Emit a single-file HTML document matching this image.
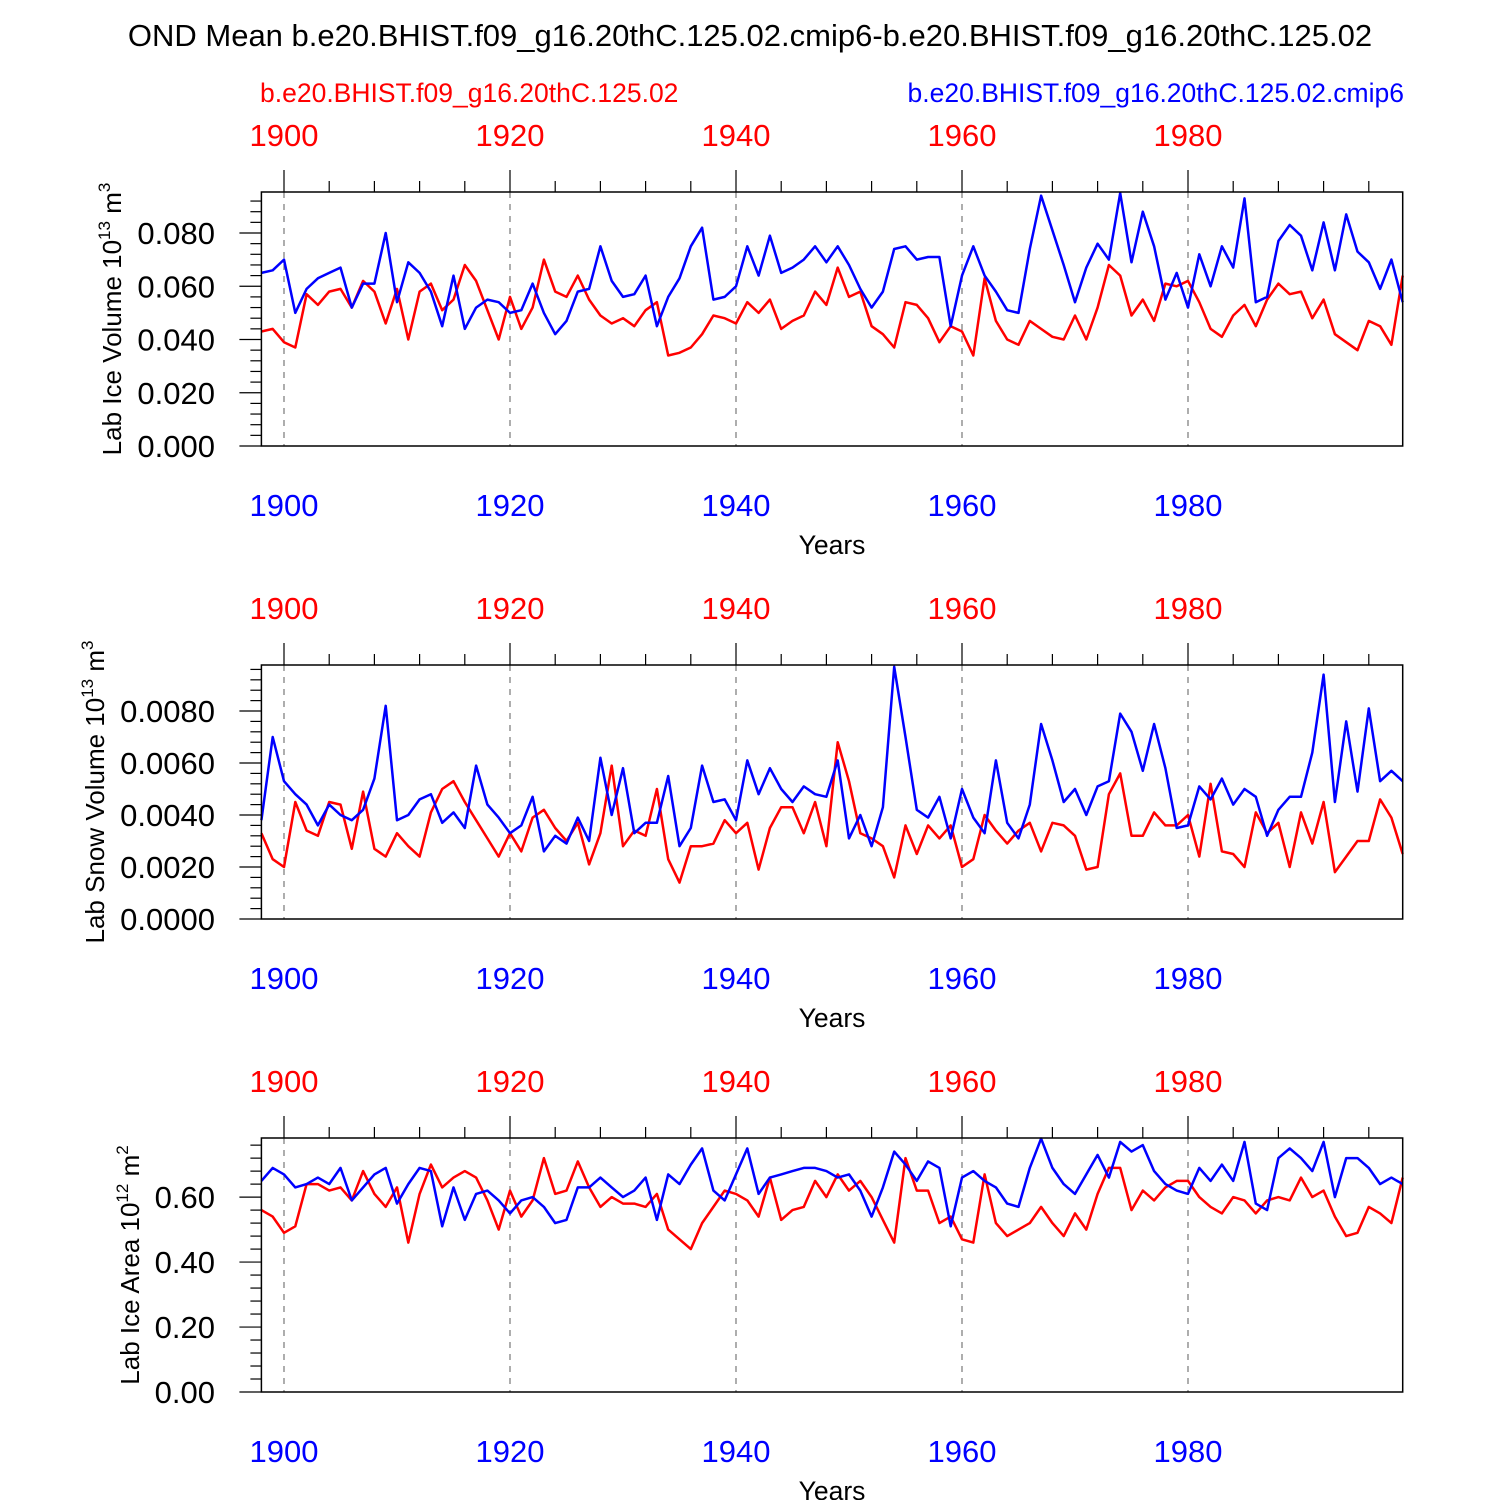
<!DOCTYPE html>
<html><head><meta charset="utf-8"><style>
html,body{margin:0;padding:0;background:#fff;}
svg{display:block;font-family:"Liberation Sans",sans-serif;}
</style></head><body>
<svg id="chart" width="1500" height="1500" viewBox="0 0 1500 1500">
<text x="750" y="46" text-anchor="middle" font-size="31">OND Mean b.e20.BHIST.f09_g16.20thC.125.02.cmip6-b.e20.BHIST.f09_g16.20thC.125.02</text>
<text x="260" y="102" font-size="26.5" fill="#ff0000">b.e20.BHIST.f09_g16.20thC.125.02</text>
<text x="1404" y="102" font-size="26.5" fill="#0000ff" text-anchor="end">b.e20.BHIST.f09_g16.20thC.125.02.cmip6</text>
</svg>
<script>
const years = [];
for (let y = 1898; y <= 1999; y++) years.push(y);
const xTicks = [1900, 1920, 1940, 1960, 1980];

const iceVolBlue = [0.065,0.066,0.070,0.050,0.059,0.063,0.065,0.067,0.052,0.061,0.061,0.080,0.054,0.069,0.065,0.058,0.045,0.064,0.044,0.052,0.055,0.054,0.050,0.051,0.061,0.050,0.042,0.047,0.058,0.059,0.075,0.062,0.056,0.057,0.064,0.045,0.056,0.063,0.075,0.082,0.055,0.056,0.060,0.075,0.064,0.079,0.065,0.067,0.070,0.075,0.069,0.075,0.068,0.059,0.052,0.058,0.074,0.075,0.070,0.071,0.071,0.045,0.064,0.075,0.064,0.058,0.051,0.050,0.074,0.094,0.081,0.068,0.054,0.067,0.076,0.070,0.095,0.069,0.088,0.075,0.055,0.065,0.052,0.072,0.060,0.075,0.067,0.093,0.054,0.056,0.077,0.083,0.079,0.066,0.084,0.066,0.087,0.073,0.069,0.059,0.070,0.054];
const iceVolRed = [0.043,0.044,0.039,0.037,0.057,0.053,0.058,0.059,0.052,0.062,0.058,0.046,0.059,0.040,0.058,0.061,0.051,0.055,0.068,0.062,0.051,0.040,0.056,0.044,0.052,0.070,0.058,0.056,0.064,0.055,0.049,0.046,0.048,0.045,0.051,0.054,0.034,0.035,0.037,0.042,0.049,0.048,0.046,0.054,0.050,0.055,0.044,0.047,0.049,0.058,0.053,0.067,0.056,0.058,0.045,0.042,0.037,0.054,0.053,0.048,0.039,0.045,0.043,0.034,0.063,0.047,0.040,0.038,0.047,0.044,0.041,0.040,0.049,0.040,0.052,0.068,0.064,0.049,0.055,0.047,0.061,0.060,0.062,0.054,0.044,0.041,0.049,0.053,0.045,0.055,0.061,0.057,0.058,0.048,0.055,0.042,0.039,0.036,0.047,0.045,0.038,0.064];
const snowBlue = [3.8,7.0,5.3,4.8,4.4,3.6,4.4,4.0,3.8,4.2,5.4,8.2,3.8,4.0,4.6,4.8,3.7,4.1,3.5,5.9,4.4,3.9,3.3,3.6,4.7,2.6,3.2,2.9,3.9,3.0,6.2,4.0,5.8,3.3,3.7,3.7,5.5,2.8,3.5,5.9,4.5,4.6,3.8,6.1,4.8,5.8,5.0,4.5,5.1,4.8,4.7,6.1,3.1,4.0,2.8,4.3,9.7,7.0,4.2,3.9,4.7,3.1,5.0,3.9,3.3,6.1,3.7,3.1,4.4,7.5,6.1,4.5,5.0,4.0,5.1,5.3,7.9,7.2,5.7,7.5,5.8,3.5,3.6,5.1,4.6,5.4,4.4,5.0,4.7,3.2,4.2,4.7,4.7,6.4,9.4,4.5,7.6,4.9,8.1,5.3,5.7,5.3].map(v=>v/1000);
const snowRed = [3.3,2.3,2.0,4.5,3.4,3.2,4.5,4.4,2.7,4.9,2.7,2.4,3.3,2.8,2.4,4.1,5.0,5.3,4.5,3.8,3.1,2.4,3.3,2.6,3.9,4.2,3.5,3.0,3.7,2.1,3.3,5.9,2.8,3.4,3.2,5.0,2.3,1.4,2.8,2.8,2.9,3.8,3.3,3.7,1.9,3.5,4.3,4.3,3.3,4.5,2.8,6.8,5.3,3.3,3.1,2.8,1.6,3.6,2.5,3.6,3.1,3.6,2.0,2.3,4.0,3.4,2.9,3.4,3.7,2.6,3.7,3.6,3.2,1.9,2.0,4.8,5.6,3.2,3.2,4.1,3.6,3.6,4.0,2.4,5.2,2.6,2.5,2.0,4.1,3.3,3.7,2.0,4.1,2.9,4.5,1.8,2.4,3.0,3.0,4.6,3.9,2.5].map(v=>v/1000);
const areaBlue = [0.65,0.69,0.67,0.63,0.64,0.66,0.64,0.69,0.59,0.63,0.67,0.69,0.58,0.64,0.69,0.68,0.51,0.63,0.53,0.61,0.62,0.59,0.55,0.59,0.60,0.57,0.52,0.53,0.63,0.63,0.66,0.63,0.60,0.62,0.66,0.53,0.67,0.64,0.70,0.75,0.62,0.59,0.67,0.75,0.61,0.66,0.67,0.68,0.69,0.69,0.68,0.66,0.67,0.62,0.54,0.63,0.74,0.70,0.65,0.71,0.69,0.51,0.66,0.68,0.65,0.63,0.58,0.57,0.69,0.78,0.69,0.64,0.61,0.67,0.73,0.66,0.77,0.74,0.76,0.68,0.64,0.62,0.61,0.69,0.65,0.70,0.65,0.77,0.58,0.56,0.72,0.75,0.72,0.68,0.77,0.60,0.72,0.72,0.69,0.64,0.66,0.64];
const areaRed = [0.56,0.54,0.49,0.51,0.64,0.64,0.62,0.63,0.59,0.68,0.61,0.57,0.63,0.46,0.61,0.70,0.63,0.66,0.68,0.66,0.59,0.50,0.62,0.54,0.59,0.72,0.61,0.62,0.71,0.63,0.57,0.60,0.58,0.58,0.57,0.61,0.50,0.47,0.44,0.52,0.57,0.62,0.61,0.59,0.54,0.66,0.53,0.56,0.57,0.65,0.60,0.67,0.62,0.65,0.60,0.53,0.46,0.72,0.62,0.62,0.52,0.54,0.47,0.46,0.67,0.52,0.48,0.50,0.52,0.57,0.52,0.48,0.55,0.50,0.61,0.69,0.69,0.56,0.62,0.59,0.63,0.65,0.65,0.60,0.57,0.55,0.60,0.59,0.55,0.59,0.60,0.59,0.66,0.60,0.62,0.54,0.48,0.49,0.57,0.55,0.52,0.66];

const iceVolTicks = ["0.000","0.020","0.040","0.060","0.080"];
const snowTicks = ["0.0000","0.0020","0.0040","0.0060","0.0080"];
const areaTicks = ["0.00","0.20","0.40","0.60"];

const svg = document.getElementById('chart');
const NS = 'http://www.w3.org/2000/svg';
function mk(tag, attrs, parent){ const e=document.createElementNS(NS,tag); for(const k in attrs) e.setAttribute(k,attrs[k]); (parent||svg).appendChild(e); return e; }

const X0=261.4, X1=1402.7, Y0YEAR=1898, Y1YEAR=1999;
function xs(yr){ return X0 + (yr - Y0YEAR)*(X1-X0)/(Y1YEAR-Y0YEAR); }

function panel(cfg){
  const g = mk('g',{});
  
  
  const top=cfg.top, bot=cfg.top+254;
  const ys = v => bot - (v/cfg.ymax)*(bot-top);
  xTicks.forEach(t=>{
    const l=mk('line',{x1:xs(t),x2:xs(t),y1:top,y2:bot,stroke:'#777','stroke-width':1.2,'stroke-dasharray':'6,6'},g);
    
    
  });
  for(let yr=1900; yr<=1999; yr+=4){
    const major = (yr-1900)%20===0;
    mk('line',{x1:xs(yr),x2:xs(yr),y1:top,y2:top-(major?22:11),stroke:'#000','stroke-width':1.2},g);
  }
  const minorStep = cfg.step/5;
  for(let v=0; v<=cfg.ymax+1e-12; v+=minorStep){
    const k=Math.round(v/minorStep);
    const major=k%5===0;
    mk('line',{x1:X0,x2:X0-(major?22:11),y1:ys(v),y2:ys(v),stroke:'#000','stroke-width':1.2},g);
  }
  cfg.ticks.forEach((lab,i)=>{
    const t=mk('text',{x:215,y:ys(i*cfg.step)+11,'text-anchor':'end','font-size':31},g);
    t.textContent=lab;
    
    
  });
  xTicks.forEach(t=>{
    const a=mk('text',{x:xs(t),y:top-46,'text-anchor':'middle','font-size':31,fill:'#ff0000'},g);
    a.textContent=t;
    
    
    const b=mk('text',{x:xs(t),y:bot+70,'text-anchor':'middle','font-size':31,fill:'#0000ff'},g);
    b.textContent=t;
    
    
  });
  const xt=mk('text',{x:832,y:bot+108,'text-anchor':'middle','font-size':26.5},g);
  xt.textContent='Years';
  
  
  const yt=mk('text',{transform:`translate(${cfg.titleX},${(top+bot)/2}) rotate(-90)`,'text-anchor':'middle','font-size':26},g);
  
  
  yt.innerHTML = cfg.title + ' 10<tspan dy="-11" font-size="17">'+cfg.exp+'</tspan><tspan dy="11"> m</tspan><tspan dy="-11" font-size="17">'+cfg.unitExp+'</tspan>';
  [[cfg.red,'#ff0000','series-red'],[cfg.blue,'#0000ff','series-blue']].forEach(([arr,col,nm])=>{
    const d=arr.map((v,i)=>(i?'L':'M')+xs(years[i]).toFixed(1)+','+ys(v).toFixed(1)).join(' ');
    const p=mk('path',{d:d,fill:'none',stroke:col,'stroke-width':2.5,'stroke-linejoin':'round'},g);
    
    
  });
  const fr=mk('rect',{x:X0,y:top,width:X1-X0,height:bot-top,fill:'none',stroke:'#000','stroke-width':1.5},g);
  
  
}

panel({name:'panel-ice-volume',top:192,ymax:0.0954,step:0.02,ticks:iceVolTicks,red:iceVolRed,blue:iceVolBlue,title:'Lab Ice Volume',exp:'13',unitExp:'3',titleX:121});
panel({name:'panel-snow-volume',top:665,ymax:0.00977,step:0.002,ticks:snowTicks,red:snowRed,blue:snowBlue,title:'Lab Snow Volume',exp:'13',unitExp:'3',titleX:104});
panel({name:'panel-ice-area',top:1138,ymax:0.782,step:0.2,ticks:areaTicks,red:areaRed,blue:areaBlue,title:'Lab Ice Area',exp:'12',unitExp:'2',titleX:139});
</script>
</body></html>
